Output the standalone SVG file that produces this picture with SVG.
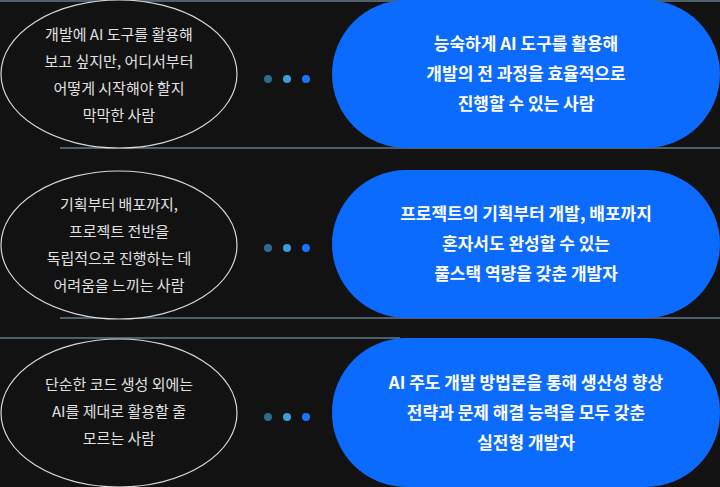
<svg xmlns="http://www.w3.org/2000/svg" width="720" height="487" viewBox="0 0 720 487">
<style>
.l{fill:#121212;stroke:#d8d8d8;stroke-width:1.2}
.r{fill:#0b6bff}
.lt{font-family:"Noto Sans CJK KR","Noto Sans",sans-serif;font-size:15px;fill:#e0e0e0;text-anchor:middle}
.rt{font-family:"Noto Sans CJK KR","Noto Sans",sans-serif;font-size:17px;font-weight:700;fill:#fff;text-anchor:middle}
.sep{stroke:#a9d4ee;stroke-width:1;opacity:.8}
</style>
<rect width="720" height="487" fill="#121212"/>
<g id="connectors">
<line class="sep" x1="0" y1="1" x2="720" y2="1"/>
<line class="sep" x1="60" y1="148" x2="720" y2="148"/>
<line class="sep" x1="60" y1="318" x2="720" y2="318"/>
<line class="sep" x1="0" y1="338" x2="400" y2="338"/>
<g id="dots1"><circle cx="268" cy="79" r="4" fill="#2e6a8f"/><circle cx="287" cy="79" r="4" fill="#3d9bd6"/><circle cx="306" cy="79" r="4" fill="#1a73ff"/></g>
<g id="dots2"><circle cx="268" cy="248" r="4" fill="#2e6a8f"/><circle cx="287" cy="248" r="4" fill="#3d9bd6"/><circle cx="306" cy="248" r="4" fill="#1a73ff"/></g>
<g id="dots3"><circle cx="268" cy="417" r="4" fill="#2e6a8f"/><circle cx="287" cy="417" r="4" fill="#3d9bd6"/><circle cx="306" cy="417" r="4" fill="#1a73ff"/></g>
</g>
<g id="left1"><ellipse class="l" cx="119" cy="74" rx="118" ry="74"/>
<text class="lt" x="119" y="40">개발에 AI 도구를 활용해</text><text class="lt" x="119" y="67">보고 싶지만, 어디서부터</text><text class="lt" x="119" y="94">어떻게 시작해야 할지</text><text class="lt" x="119" y="121">막막한 사람</text></g>
<g id="right1"><rect class="r" x="332" y="0" width="388" height="148" rx="74"/>
<text class="rt" x="526" y="50">능숙하게 AI 도구를 활용해</text><text class="rt" x="526" y="80">개발의 전 과정을 효율적으로</text><text class="rt" x="526" y="110">진행할 수 있는 사람</text></g>
<g id="left2"><ellipse class="l" cx="119" cy="245" rx="118" ry="74"/>
<text class="lt" x="119" y="210">기획부터 배포까지,</text><text class="lt" x="119" y="237">프로젝트 전반을</text><text class="lt" x="119" y="264">독립적으로 진행하는 데</text><text class="lt" x="119" y="291">어려움을 느끼는 사람</text></g>
<g id="right2"><rect class="r" x="332" y="170" width="388" height="148" rx="74"/>
<text class="rt" x="526" y="220">프로젝트의 기획부터 개발, 배포까지</text><text class="rt" x="526" y="250">혼자서도 완성할 수 있는</text><text class="rt" x="526" y="280">풀스택 역량을 갖춘 개발자</text></g>
<g id="left3"><ellipse class="l" cx="119" cy="413" rx="118" ry="74"/>
<text class="lt" x="119" y="390">단순한 코드 생성 외에는</text><text class="lt" x="119" y="417">AI를 제대로 활용할 줄</text><text class="lt" x="119" y="444">모르는 사람</text></g>
<g id="right3"><rect class="r" x="332" y="338" width="388" height="149" rx="74"/>
<text class="rt" x="526" y="389">AI 주도 개발 방법론을 통해 생산성 향상</text><text class="rt" x="526" y="419">전략과 문제 해결 능력을 모두 갖춘</text><text class="rt" x="526" y="449">실전형 개발자</text></g>
</svg>
